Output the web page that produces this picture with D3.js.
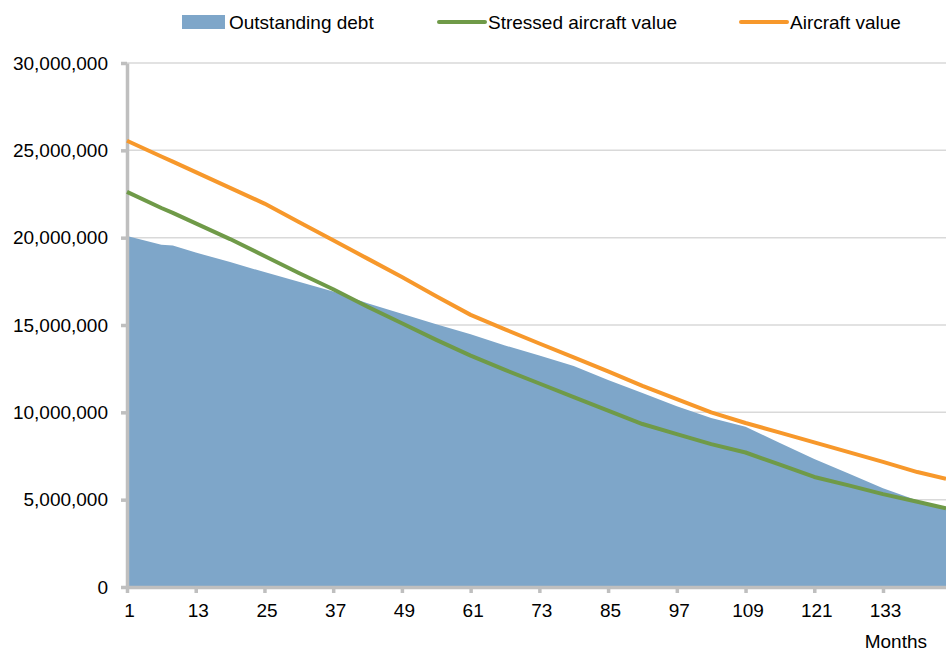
<!DOCTYPE html>
<html>
<head>
<meta charset="utf-8">
<script src="https://cdnjs.cloudflare.com/ajax/libs/d3/7.8.5/d3.min.js"></script>
<style>
    body { margin: 0; background: #fff; }
    svg { display: block; font-family: "Liberation Sans", Arial, sans-serif; }
</style>
</head>
<body>
<svg id="chart"></svg>
<script>
const months = [1, 7, 9, 13, 19, 25, 31, 37, 43, 49, 55, 61, 67, 73, 79, 85, 91, 97, 103, 109, 115, 121, 127, 133, 139, 144];

const outstandingDebt = [20100000, 19600000, 19550000, 19150000, 18600000, 18030000, 17470000, 16920000, 16250000, 15650000, 15050000,
    14470000, 13830000, 13260000, 12650000, 11850000, 11100000, 10350000, 9680000, 9180000, 8250000,
    7330000, 6500000, 5650000, 4950000, 4450000];

const stressedValue = [22620000, 21700000, 21420000, 20820000, 19920000, 18950000, 17980000, 17050000, 16050000, 15100000, 14150000,
    13250000, 12430000, 11650000, 10870000, 10100000, 9330000, 8750000, 8180000, 7700000, 7000000,
    6300000, 5820000, 5320000, 4880000, 4500000];

const aircraftValue = [25550000, 24650000, 24350000, 23750000, 22850000, 21950000, 20900000, 19850000, 18800000, 17750000, 16650000,
    15580000, 14750000, 13940000, 13150000, 12340000, 11520000, 10760000, 10000000, 9390000, 8840000,
    8280000, 7720000, 7160000, 6580000, 6200000];

const xTicks = [1, 13, 25, 37, 49, 61, 73, 85, 97, 109, 121, 133];
const yTicks = [0, 5000000, 10000000, 15000000, 20000000, 25000000, 30000000];

const legendItems = [
    { name: "Outstanding debt", type: "area", color: "#7ea6c9" },
    { name: "Stressed aircraft value", type: "line", color: "#6f9a48" },
    { name: "Aircraft value", type: "line", color: "#f7982b" }
];

const width = 946;
const height = 651;

const svg = d3.select("#chart")
    .attr("width", width)
    .attr("height", height);

const x = d3.scaleLinear().domain([1, 144]).range([127, 946]);
const y = d3.scaleLinear().domain([0, 30000000]).range([587, 63]);

// gridlines
svg.append("g")
    .selectAll("line")
    .data(yTicks.slice(1))
    .enter()
    .append("line")
    .attr("x1", 127)
    .attr("x2", width)
    .attr("y1", d => y(d))
    .attr("y2", d => y(d))
    .attr("stroke", "#d9d9d9")
    .attr("stroke-width", 1.5);

const series = months.map((m, i) => ({
    m,
    debt: outstandingDebt[i],
    stressed: stressedValue[i],
    value: aircraftValue[i]
}));

svg.append("path")
    .datum(series)
    .attr("fill", legendItems[0].color)
    .attr("d", d3.area()
        .x(d => x(d.m))
        .y0(y(0))
        .y1(d => y(d.debt)));

// axes
const yAxis = svg.append("g")
    .attr("transform", "translate(127,0)")
    .call(d3.axisLeft(y)
        .tickValues(yTicks)
        .tickFormat(d3.format(","))
        .tickSize(6)
        .tickSizeOuter(0)
        .tickPadding(13));

const xAxis = svg.append("g")
    .attr("transform", "translate(0,587)")
    .call(d3.axisBottom(x)
        .tickValues(xTicks)
        .tickSize(6)
        .tickSizeOuter(0)
        .tickPadding(11));

[yAxis, xAxis].forEach(g => {
    g.select(".domain")
        .attr("stroke", "#bfbfbf")
        .attr("stroke-width", 3.5);
    g.selectAll(".tick line")
        .attr("stroke", "#bfbfbf")
        .attr("stroke-width", 3.5);
    g.selectAll(".tick text")
        .attr("fill", "#000")
        .attr("font-size", 19)
        .attr("font-family", "Liberation Sans, Arial, sans-serif");
});

xAxis.selectAll(".tick text").attr("dx", 2);

svg.append("path")
    .datum(series)
    .attr("fill", "none")
    .attr("stroke", legendItems[1].color)
    .attr("stroke-width", 4)
    .attr("stroke-linejoin", "round")
    .attr("d", d3.line()
        .x(d => x(d.m))
        .y(d => y(d.stressed)));

svg.append("path")
    .datum(series)
    .attr("fill", "none")
    .attr("stroke", legendItems[2].color)
    .attr("stroke-width", 4)
    .attr("stroke-linejoin", "round")
    .attr("d", d3.line()
        .x(d => x(d.m))
        .y(d => y(d.value)));

svg.append("text")
    .attr("x", 927)
    .attr("y", 648)
    .attr("text-anchor", "end")
    .attr("font-size", 19)
    .text("Months");

// legend
const legendX = [182, 439, 741];
const legend = svg.append("g")
    .selectAll("g")
    .data(legendItems)
    .enter()
    .append("g")
    .attr("transform", (d, i) => `translate(${legendX[i]},22)`);

legend.filter(d => d.type === "area")
    .append("rect")
    .attr("x", 0)
    .attr("y", -7)
    .attr("width", 43)
    .attr("height", 14)
    .attr("fill", d => d.color);

legend.filter(d => d.type === "line")
    .append("line")
    .attr("x1", 0)
    .attr("x2", 46)
    .attr("stroke", d => d.color)
    .attr("stroke-width", 4)
    .attr("stroke-linecap", "round");

legend.append("text")
    .attr("x", (d, i) => i === 0 ? 47 : 49)
    .attr("dy", "0.35em")
    .attr("font-size", 19)
    .text(d => d.name);
</script>
</body>
</html>
